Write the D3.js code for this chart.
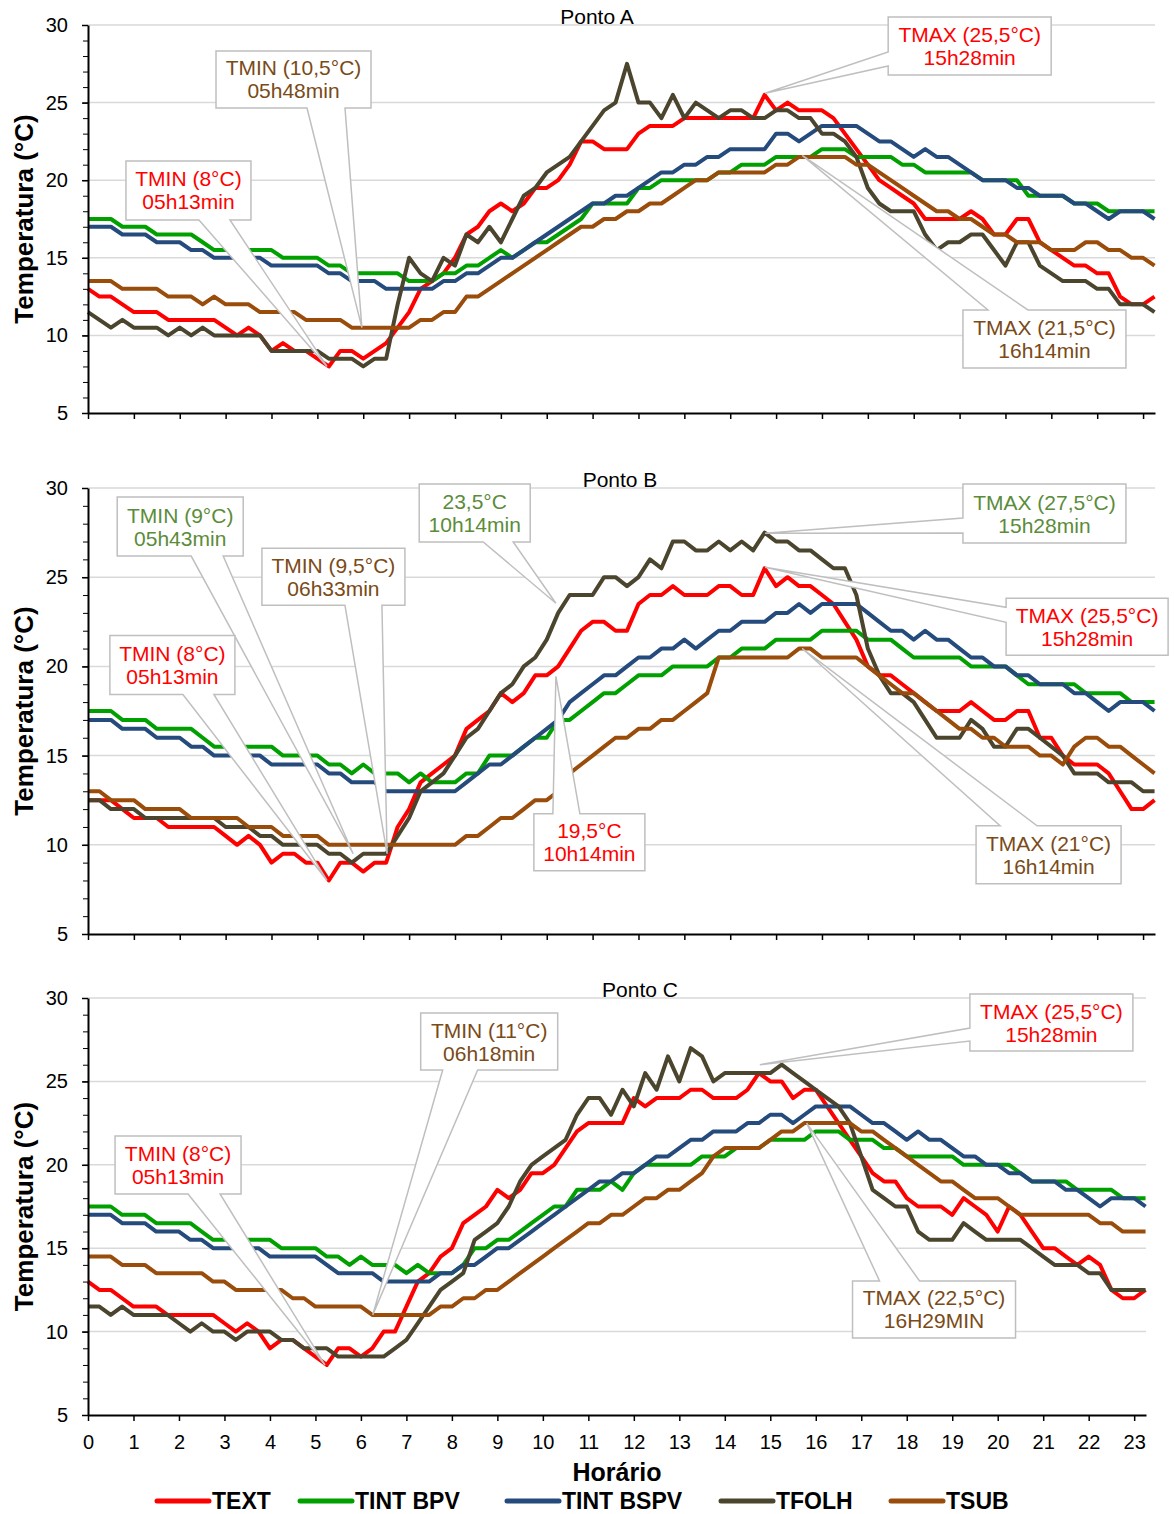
<!DOCTYPE html>
<html>
<head>
<meta charset="utf-8">
<script src="https://cdn.jsdelivr.net/npm/d3@7"></script>
<style>
  body { margin: 0; background: #fff; }
  svg text { font-family: "Liberation Sans", Arial, sans-serif; fill: #000; }
</style>
</head>
<body>
<svg id="chart" width="1174" height="1514"></svg>
<script>
// time of day (h), one reading every 15 min
const hours = [
  0, 0.25, 0.5, 0.75, 1, 1.25, 1.5, 1.75, 2, 2.25, 2.5, 2.75, 3, 3.25, 3.5, 3.75,
  4, 4.25, 4.5, 4.75, 5, 5.25, 5.5, 5.75, 6, 6.25, 6.5, 6.75, 7, 7.25, 7.5, 7.75,
  8, 8.25, 8.5, 8.75, 9, 9.25, 9.5, 9.75, 10, 10.25, 10.5, 10.75, 11, 11.25, 11.5, 11.75,
  12, 12.25, 12.5, 12.75, 13, 13.25, 13.5, 13.75, 14, 14.25, 14.5, 14.75, 15, 15.25, 15.5, 15.75,
  16, 16.25, 16.5, 16.75, 17, 17.25, 17.5, 17.75, 18, 18.25, 18.5, 18.75, 19, 19.25, 19.5, 19.75,
  20, 20.25, 20.5, 20.75, 21, 21.25, 21.5, 21.75, 22, 22.25, 22.5, 22.75, 23, 23.25
];
const hourTicks = [0,1,2,3,4,5,6,7,8,9,10,11,12,13,14,15,16,17,18,19,20,21,22,23];
const tempTicks = [5,10,15,20,25,30];

const seriesNames = ["TEXT", "TINT BPV", "TINT BSPV", "TFOLH", "TSUB"];
const seriesColors = ["#ff0000", "#00a000", "#254a7c", "#4b452e", "#9a4c0a"];

// ---- Ponto A ----
const pontoA_text = [13.0,12.5,12.5,12.0, 11.5,11.5,11.5,11.0, 11.0,11.0,11.0,11.0, 10.5,10.0,10.5,10.0,
  9.0,9.5,9.0,9.0, 8.5,8.0,9.0,9.0, 8.5,9.0,9.5,10.5, 11.5,13.0,13.5,14.0,
  15.0,16.5,17.0,18.0, 18.5,18.0,18.5,19.5, 19.5,20.0,21.0,22.5, 22.5,22.0,22.0,22.0,
  23.0,23.5,23.5,23.5, 24.0,24.0,24.0,24.0, 24.0,24.0,24.0,25.5, 24.5,25.0,24.5,24.5,
  24.5,24.0,23.0,22.0, 21.0,20.0,19.5,19.0, 18.5,17.5,17.5,17.5, 17.5,18.0,17.5,16.5,
  16.5,17.5,17.5,16.0, 15.5,15.0,14.5,14.5, 14.0,14.0,12.5,12.0, 12.0,12.5];
const pontoA_bpv = [17.5,17.5,17.5,17.0, 17.0,17.0,16.5,16.5, 16.5,16.5,16.0,15.5, 15.5,15.5,15.5,15.5,
  15.5,15.0,15.0,15.0, 15.0,14.5,14.5,14.0, 14.0,14.0,14.0,14.0, 13.5,13.5,13.5,14.0,
  14.0,14.5,14.5,15.0, 15.5,15.0,15.5,16.0, 16.0,16.5,17.0,17.5, 18.5,18.5,18.5,18.5,
  19.5,19.5,20.0,20.0, 20.0,20.0,20.0,20.5, 20.5,21.0,21.0,21.0, 21.5,21.5,21.5,21.5,
  22.0,22.0,22.0,21.5, 21.5,21.5,21.5,21.0, 21.0,20.5,20.5,20.5, 20.5,20.5,20.0,20.0,
  20.0,20.0,19.0,19.0, 19.0,19.0,18.5,18.5, 18.5,18.0,18.0,18.0, 18.0,18.0];
const pontoA_bspv = [17.0,17.0,17.0,16.5, 16.5,16.5,16.0,16.0, 16.0,15.5,15.5,15.0, 15.0,15.0,15.0,15.0,
  14.5,14.5,14.5,14.5, 14.5,14.0,14.0,13.5, 13.5,13.5,13.0,13.0, 13.0,13.0,13.0,13.5,
  13.5,14.0,14.0,14.5, 15.0,15.0,15.5,16.0, 16.5,17.0,17.5,18.0, 18.5,18.5,19.0,19.0,
  19.5,20.0,20.5,20.5, 21.0,21.0,21.5,21.5, 22.0,22.0,22.0,22.0, 23.0,23.0,22.5,23.0,
  23.5,23.5,23.5,23.5, 23.0,22.5,22.5,22.0, 21.5,22.0,21.5,21.5, 21.0,20.5,20.0,20.0,
  20.0,19.5,19.5,19.0, 19.0,19.0,18.5,18.5, 18.0,17.5,18.0,18.0, 18.0,17.5];
const pontoA_folh = [11.5,11.0,10.5,11.0, 10.5,10.5,10.5,10.0, 10.5,10.0,10.5,10.0, 10.0,10.0,10.0,10.0,
  9.0,9.0,9.0,9.0, 9.0,8.5,8.5,8.5, 8.0,8.5,8.5,12.0, 15.0,14.0,13.5,15.0,
  14.5,16.5,16.0,17.0, 16.0,17.5,19.0,19.5, 20.5,21.0,21.5,22.5, 23.5,24.5,25.0,27.5,
  25.0,25.0,24.0,25.5, 24.0,25.0,24.5,24.0, 24.5,24.5,24.0,24.0, 24.5,24.5,24.0,24.0,
  23.0,23.0,22.5,21.5, 19.5,18.5,18.0,18.0, 18.0,16.5,15.5,16.0, 16.0,16.5,16.5,15.5,
  14.5,16.0,16.0,14.5, 14.0,13.5,13.5,13.5, 13.0,13.0,12.0,12.0, 12.0,11.5];
const pontoA_sub = [13.5,13.5,13.5,13.0, 13.0,13.0,13.0,12.5, 12.5,12.5,12.0,12.5, 12.0,12.0,12.0,11.5,
  11.5,11.5,11.5,11.0, 11.0,11.0,11.0,10.5, 10.5,10.5,10.5,10.5, 10.5,11.0,11.0,11.5,
  11.5,12.5,12.5,13.0, 13.5,14.0,14.5,15.0, 15.5,16.0,16.5,17.0, 17.0,17.5,17.5,18.0,
  18.0,18.5,18.5,19.0, 19.5,20.0,20.0,20.5, 20.5,20.5,20.5,20.5, 21.0,21.0,21.5,21.5,
  21.5,21.5,21.5,21.0, 21.0,20.5,20.0,19.5, 19.0,18.5,18.0,18.0, 17.5,17.5,17.0,16.5,
  16.5,16.0,16.0,16.0, 15.5,15.5,15.5,16.0, 16.0,15.5,15.5,15.0, 15.0,14.5];

// ---- Ponto B ----
const pontoB_text = [12.5,12.5,12.5,12.0, 11.5,11.5,11.5,11.0, 11.0,11.0,11.0,11.0, 10.5,10.0,10.5,10.0,
  9.0,9.5,9.5,9.0, 9.0,8.0,9.0,9.0, 8.5,9.0,9.0,11.0, 12.0,13.5,14.0,14.5,
  15.0,16.5,17.0,17.5, 18.5,18.0,18.5,19.5, 19.5,20.0,21.0,22.0, 22.5,22.5,22.0,22.0,
  23.5,24.0,24.0,24.5, 24.0,24.0,24.0,24.5, 24.5,24.0,24.0,25.5, 24.5,25.0,24.5,24.5,
  24.0,23.5,22.5,21.5, 20.0,19.5,19.5,19.0, 18.5,18.0,17.5,17.5, 17.5,18.0,17.5,17.0,
  17.0,17.5,17.5,16.0, 16.0,15.0,14.5,14.5, 14.5,14.0,13.0,12.0, 12.0,12.5];
const pontoB_bpv = [17.5,17.5,17.5,17.0, 17.0,17.0,16.5,16.5, 16.5,16.5,16.0,15.5, 15.5,15.5,15.5,15.5,
  15.5,15.0,15.0,15.0, 15.0,14.5,14.5,14.0, 14.5,14.0,14.0,14.0, 13.5,14.0,13.5,13.5,
  13.5,14.0,14.0,15.0, 15.0,15.0,15.5,16.0, 16.0,17.0,17.0,17.5, 18.0,18.5,18.5,19.0,
  19.5,19.5,19.5,20.0, 20.0,20.0,20.0,20.5, 20.5,21.0,21.0,21.0, 21.5,21.5,21.5,21.5,
  22.0,22.0,22.0,22.0, 21.5,21.5,21.5,21.0, 20.5,20.5,20.5,20.5, 20.5,20.0,20.0,20.0,
  20.0,19.5,19.0,19.0, 19.0,19.0,19.0,18.5, 18.5,18.5,18.5,18.0, 18.0,18.0];
const pontoB_bspv = [17.0,17.0,17.0,16.5, 16.5,16.5,16.0,16.0, 16.0,15.5,15.5,15.0, 15.0,15.0,15.0,15.0,
  14.5,14.5,14.5,14.5, 14.5,14.0,14.0,13.5, 13.5,13.5,13.0,13.0, 13.0,13.0,13.0,13.0,
  13.0,13.5,14.0,14.5, 14.5,15.0,15.5,16.0, 16.5,17.0,18.0,18.5, 19.0,19.5,19.5,20.0,
  20.5,20.5,21.0,21.0, 21.5,21.0,21.5,22.0, 22.0,22.5,22.5,22.5, 23.0,23.0,23.5,23.0,
  23.5,23.5,23.5,23.5, 23.0,22.5,22.0,22.0, 21.5,22.0,21.5,21.5, 21.0,20.5,20.5,20.0,
  20.0,19.5,19.5,19.0, 19.0,19.0,18.5,18.5, 18.0,17.5,18.0,18.0, 18.0,17.5];
const pontoB_folh = [12.5,12.5,12.0,12.0, 12.0,11.5,11.5,11.5, 11.5,11.5,11.5,11.5, 11.0,11.0,11.0,10.5,
  10.5,10.0,10.0,10.0, 10.0,9.5,9.5,9.0, 9.5,9.5,9.5,10.5, 11.5,13.0,13.5,14.0,
  15.0,16.0,16.5,17.5, 18.5,19.0,20.0,20.5, 21.5,23.0,24.0,24.0, 24.0,25.0,25.0,24.5,
  25.0,26.0,25.5,27.0, 27.0,26.5,26.5,27.0, 26.5,27.0,26.5,27.5, 27.0,27.0,26.5,26.5,
  26.0,25.5,25.5,24.0, 21.0,19.5,18.5,18.5, 18.0,17.0,16.0,16.0, 16.0,17.0,16.5,15.5,
  15.5,16.5,16.5,16.0, 15.5,15.0,14.0,14.0, 14.0,13.5,13.5,13.5, 13.0,13.0];
const pontoB_sub = [13.0,13.0,12.5,12.5, 12.5,12.0,12.0,12.0, 12.0,11.5,11.5,11.5, 11.5,11.5,11.0,11.0,
  11.0,10.5,10.5,10.5, 10.5,10.0,10.0,10.0, 10.0,10.0,10.0,10.0, 10.0,10.0,10.0,10.0,
  10.0,10.5,10.5,11.0, 11.5,11.5,12.0,12.5, 12.5,13.0,14.0,14.5, 15.0,15.5,16.0,16.0,
  16.5,16.5,17.0,17.0, 17.5,18.0,18.5,20.5, 20.5,20.5,20.5,20.5, 20.5,20.5,21.0,21.0,
  20.5,20.5,20.5,20.5, 20.0,19.5,19.0,18.5, 18.5,18.0,17.5,17.0, 16.5,16.5,16.0,16.0,
  15.5,15.5,15.5,15.0, 15.0,14.5,15.5,16.0, 16.0,15.5,15.5,15.0, 14.5,14.0];

// ---- Ponto C ----
const pontoC_text = [13.0,12.5,12.5,12.0, 11.5,11.5,11.5,11.0, 11.0,11.0,11.0,11.0, 10.5,10.0,10.5,10.0,
  9.0,9.5,9.5,9.0, 8.5,8.0,9.0,9.0, 8.5,9.0,10.0,10.0, 11.5,13.0,13.5,14.5,
  15.0,16.5,17.0,17.5, 18.5,18.0,18.5,19.5, 19.5,20.0,21.0,22.0, 22.5,22.5,22.5,22.5,
  24.0,23.5,24.0,24.0, 24.0,24.5,24.5,24.0, 24.0,24.0,24.5,25.5, 25.0,25.0,24.0,24.5,
  24.5,23.5,22.5,21.5, 20.5,19.5,19.0,19.0, 18.0,17.5,17.5,17.5, 17.0,18.0,17.5,17.0,
  16.0,17.5,17.0,16.0, 15.0,15.0,14.5,14.0, 14.5,14.0,12.5,12.0, 12.0,12.5];
const pontoC_bpv = [17.5,17.5,17.5,17.0, 17.0,17.0,16.5,16.5, 16.5,16.5,16.0,15.5, 15.5,15.5,15.5,15.5,
  15.5,15.0,15.0,15.0, 15.0,14.5,14.5,14.0, 14.5,14.0,14.0,14.0, 13.5,14.0,13.5,13.5,
  13.5,14.0,15.0,15.0, 15.5,15.5,16.0,16.5, 17.0,17.5,17.5,18.5, 18.5,18.5,19.0,18.5,
  19.5,20.0,20.0,20.0, 20.0,20.0,20.5,20.5, 20.5,21.0,21.0,21.0, 21.5,21.5,21.5,21.5,
  22.0,22.0,22.0,21.5, 21.5,21.5,21.0,21.0, 20.5,20.5,20.5,20.5, 20.5,20.0,20.0,20.0,
  20.0,20.0,19.5,19.0, 19.0,19.0,19.0,18.5, 18.5,18.5,18.5,18.0, 18.0,18.0];
const pontoC_bspv = [17.0,17.0,17.0,16.5, 16.5,16.5,16.0,16.0, 16.0,15.5,15.5,15.0, 15.0,15.0,15.0,15.0,
  14.5,14.5,14.5,14.5, 14.5,14.0,13.5,13.5, 13.5,13.5,13.0,13.0, 13.0,13.0,13.0,13.5,
  13.5,14.0,14.0,14.5, 15.0,15.0,15.5,16.0, 16.5,17.0,17.5,18.0, 18.5,19.0,19.0,19.5,
  19.5,20.0,20.5,20.5, 21.0,21.5,21.5,22.0, 22.0,22.0,22.5,22.5, 23.0,23.0,22.5,23.0,
  23.5,23.5,23.5,23.5, 23.0,22.5,22.5,22.0, 21.5,22.0,21.5,21.5, 21.0,20.5,20.5,20.0,
  20.0,19.5,19.5,19.0, 19.0,19.0,18.5,18.5, 18.0,17.5,18.0,18.0, 18.0,17.5];
const pontoC_folh = [11.5,11.5,11.0,11.5, 11.0,11.0,11.0,11.0, 10.5,10.0,10.5,10.0, 10.0,9.5,10.0,10.0,
  10.0,9.5,9.5,9.0, 9.0,9.0,8.5,8.5, 8.5,8.5,8.5,9.0, 9.5,10.5,11.5,12.5,
  13.0,13.5,15.5,16.0, 16.5,17.5,19.0,20.0, 20.5,21.0,21.5,23.0, 24.0,24.0,23.0,24.5,
  23.5,25.5,24.5,26.5, 25.0,27.0,26.5,25.0, 25.5,25.5,25.5,25.5, 25.5,26.0,25.5,25.0,
  24.5,24.0,23.5,22.5, 20.5,18.5,18.0,17.5, 17.5,16.0,15.5,15.5, 15.5,16.5,16.0,15.5,
  15.5,15.5,15.5,15.0, 14.5,14.0,14.0,14.0, 13.5,13.5,12.5,12.5, 12.5,12.5];
const pontoC_sub = [14.5,14.5,14.5,14.0, 14.0,14.0,13.5,13.5, 13.5,13.5,13.5,13.0, 13.0,12.5,12.5,12.5,
  12.5,12.5,12.0,12.0, 11.5,11.5,11.5,11.5, 11.5,11.0,11.0,11.0, 11.0,11.0,11.0,11.5,
  11.5,12.0,12.0,12.5, 12.5,13.0,13.5,14.0, 14.5,15.0,15.5,16.0, 16.5,16.5,17.0,17.0,
  17.5,18.0,18.0,18.5, 18.5,19.0,19.5,20.5, 21.0,21.0,21.0,21.0, 21.5,22.0,22.0,22.5,
  22.5,22.5,22.5,22.5, 22.0,22.0,21.5,21.0, 20.5,20.0,19.5,19.0, 19.0,18.5,18.0,18.0,
  18.0,17.5,17.0,17.0, 17.0,17.0,17.0,17.0, 17.0,16.5,16.5,16.0, 16.0,16.0];

const red = "#ff0000", brown = "#7a4a17", green = "#5b8c3a";

// callouts: box centre and pointer tip in data units (hour, °C)
const notesA = [
  {lines: ["TMIN (10,5°C)", "05h48min"], color: brown, box: [4.48, 26.49, 155, 57], side: "bottom", base: [91, 129], at: [5.97, 10.5]},
  {lines: ["TMIN (8°C)", "05h13min"], color: red, box: [2.19, 19.34, 125, 59], side: "bottom", base: [73, 104], at: [5.21, 8.0]},
  {lines: ["TMAX (25,5°C)", "15h28min"], color: red, box: [19.22, 28.65, 163, 58], side: "left", base: [35, 49], at: [14.76, 25.6]},
  {lines: ["TMAX (21,5°C)", "16h14min"], color: brown, box: [20.85, 9.77, 163, 58], side: "top", base: [25, 65], at: [15.57, 21.6]}
];
const notesB = [
  {lines: ["TMIN (9°C)", "05h43min"], color: green, box: [2.01, 27.84, 126, 59], side: "bottom", base: [74, 106], at: [5.78, 9.5]},
  {lines: ["TMIN (9,5°C)", "06h33min"], color: brown, box: [5.35, 25.03, 143, 57], side: "bottom", base: [83, 120], at: [6.52, 9.5]},
  {lines: ["TMIN (8°C)", "05h13min"], color: red, box: [1.84, 20.08, 125, 59], side: "bottom", base: [73, 104], at: [5.21, 8.0]},
  {lines: ["23,5°C", "10h14min"], color: green, box: [8.43, 28.6, 111, 58], side: "bottom", base: [64, 94], at: [10.2, 23.54]},
  {lines: ["19,5°C", "10h14min"], color: red, box: [10.93, 10.14, 111, 57], side: "top", base: [19, 46], at: [10.2, 19.44]},
  {lines: ["TMAX (27,5°C)", "15h28min"], color: green, box: [20.85, 28.57, 163, 59], side: "left", base: [34, 49], at: [14.76, 27.47]},
  {lines: ["TMAX (25,5°C)", "15h28min"], color: red, box: [21.78, 22.22, 162, 57], side: "left", base: [9, 24], at: [14.76, 25.56]},
  {lines: ["TMAX (21°C)", "16h14min"], color: brown, box: [20.94, 9.44, 145, 58], side: "top", base: [24, 61], at: [15.57, 21.0]}
];
const notesC = [
  {lines: ["TMIN (8°C)", "05h13min"], color: red, box: [1.98, 19.99, 126, 58], side: "bottom", base: [73, 105], at: [5.21, 8.0]},
  {lines: ["TMIN (11°C)", "06h18min"], color: brown, box: [8.82, 27.39, 137, 57], side: "bottom", base: [22, 57], at: [6.26, 11.0]},
  {lines: ["TMAX (25,5°C)", "15h28min"], color: red, box: [21.18, 28.53, 163, 57], side: "left", base: [34, 47], at: [14.77, 26.0]},
  {lines: ["TMAX (22,5°C)", "16H29MIN"], color: brown, box: [18.6, 11.33, 163, 57], side: "top", base: [27, 67], at: [15.8, 22.5]}
];

const panels = [
  {title: "Ponto A", titleX: 597, top: 25, bottom: 413, right: 1155, labels: false, notes: notesA,
    series: [pontoA_text, pontoA_bpv, pontoA_bspv, pontoA_folh, pontoA_sub]},
  {title: "Ponto B", titleX: 620, top: 488, bottom: 934, right: 1155, labels: false, notes: notesB,
    series: [pontoB_text, pontoB_bpv, pontoB_bspv, pontoB_folh, pontoB_sub]},
  {title: "Ponto C", titleX: 640, top: 998, bottom: 1415, right: 1146, labels: true, notes: notesC,
    series: [pontoC_text, pontoC_bpv, pontoC_bspv, pontoC_folh, pontoC_sub]}
];

const svg = d3.select("#chart");
svg.append("rect").attr("width", 1174).attr("height", 1514).attr("fill", "#fff");

function calloutPath(n, x, y) {
  const cx = x(n.box[0]), cy = y(n.box[1]);
  const w = n.box[2], h = n.box[3];
  const l = cx - w / 2, r = cx + w / 2, t = cy - h / 2, b = cy + h / 2;
  const ax = x(n.at[0]), ay = y(n.at[1]);
  const [b1, b2] = n.base;
  const p = d3.path();
  if (n.side === "bottom") {
    p.moveTo(l, t); p.lineTo(r, t); p.lineTo(r, b); p.lineTo(l + b2, b);
    p.lineTo(ax, ay); p.lineTo(l + b1, b); p.lineTo(l, b);
  } else if (n.side === "top") {
    p.moveTo(l, t); p.lineTo(l + b1, t); p.lineTo(ax, ay); p.lineTo(l + b2, t);
    p.lineTo(r, t); p.lineTo(r, b); p.lineTo(l, b);
  } else {
    p.moveTo(l, t); p.lineTo(r, t); p.lineTo(r, b); p.lineTo(l, b);
    p.lineTo(l, t + b2); p.lineTo(ax, ay); p.lineTo(l, t + b1);
  }
  p.closePath();
  return p.toString();
}

function drawPanel(p) {
  const x = d3.scaleLinear([0, 23.26], [88, p.right]);
  const y = d3.scaleLinear([5, 30], [p.bottom, p.top]);
  const g = svg.append("g");

  // grid lines
  g.append("g").selectAll("line").data(tempTicks.slice(1)).join("line")
    .attr("x1", 88).attr("x2", p.right)
    .attr("y1", d => y(d)).attr("y2", d => y(d))
    .attr("stroke", "#d9d9d9").attr("stroke-width", 1.5);

  // series
  const line = d3.line().x((d, i) => x(hours[i])).y(d => y(d));
  g.append("g").selectAll("path").data(p.series).join("path")
    .attr("d", line)
    .attr("fill", "none")
    .attr("stroke", (d, i) => seriesColors[i])
    .attr("stroke-width", 4)
    .attr("stroke-linejoin", "round");

  // callouts
  const notes = g.append("g").selectAll("g").data(p.notes).join("g");
  notes.append("path")
    .attr("d", n => calloutPath(n, x, y))
    .attr("fill", "#fff").attr("stroke", "#bfbfbf").attr("stroke-width", 1.5);
  notes.each(function(n) {
    const cx = x(n.box[0]), cy = y(n.box[1]);
    d3.select(this).selectAll("text").data(n.lines).join("text")
      .attr("x", cx)
      .attr("y", (d, i) => cy - 4 + i * 23)
      .attr("text-anchor", "middle")
      .style("font-size", "21px")
      .style("fill", n.color)
      .text(d => d);
  });

  // title
  g.append("text").attr("x", p.titleX).attr("y", p.top - 1)
    .attr("text-anchor", "middle").style("font-size", "21px").text(p.title);

  // y axis
  const yMinor = d3.range(5, 31);
  g.append("g").attr("transform", "translate(88,0)")
    .call(d3.axisLeft(y).tickValues(yMinor).tickSize(5).tickSizeOuter(0).tickFormat(""))
    .call(a => a.select(".domain").remove());
  g.append("g").attr("transform", "translate(88,0)")
    .call(d3.axisLeft(y).tickValues(tempTicks).tickSize(6).tickSizeOuter(0).tickPadding(14))
    .call(a => a.select(".domain").attr("stroke-width", 2))
    .call(a => a.selectAll(".tick line").attr("stroke-width", 1.5))
    .call(a => a.selectAll("text").style("font-size", "20px").attr("font-family", null));

  // x axis
  const xAxis = d3.axisBottom(x).tickValues(hourTicks).tickSize(6).tickSizeOuter(0).tickPadding(14);
  if (!p.labels) xAxis.tickFormat("");
  g.append("g").attr("transform", `translate(0,${p.bottom})`)
    .call(xAxis)
    .call(a => a.select(".domain").attr("stroke-width", 2))
    .call(a => a.selectAll(".tick line").attr("stroke-width", 1.5))
    .call(a => a.selectAll("text").style("font-size", "20px").attr("font-family", null));

  // y title
  g.append("text")
    .attr("transform", `translate(33,${(p.top + p.bottom) / 2}) rotate(-90)`)
    .attr("text-anchor", "middle")
    .style("font-size", "26px").style("font-weight", "bold")
    .text("Temperatura (°C)");
}

panels.forEach(drawPanel);

// x title
svg.append("text").attr("x", 617).attr("y", 1481).attr("text-anchor", "middle")
  .style("font-size", "25px").style("font-weight", "bold").text("Horário");

// legend
const legendStart = [155, 298, 505, 719, 889];
const legend = svg.append("g").selectAll("g").data(seriesNames).join("g")
  .attr("transform", (d, i) => `translate(${legendStart[i]},1501)`);
legend.append("line").attr("x1", 2).attr("x2", 54)
  .attr("stroke", (d, i) => seriesColors[i]).attr("stroke-width", 5).attr("stroke-linecap", "round");
legend.append("text").attr("x", 57).attr("y", 8)
  .style("font-size", "23px").style("font-weight", "bold").text(d => d);
</script>
</body>
</html>
